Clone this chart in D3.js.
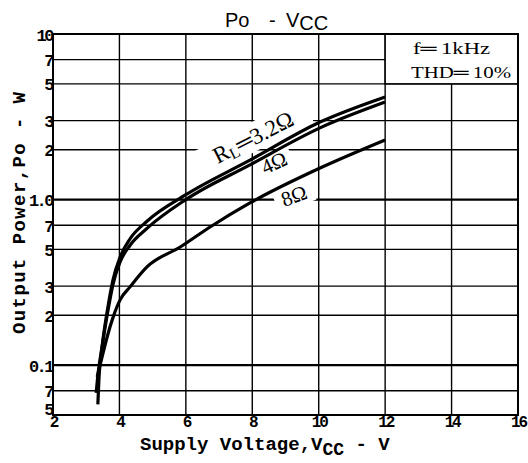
<!DOCTYPE html>
<html><head><meta charset="utf-8">
<script src="https://cdn.jsdelivr.net/npm/d3@7"></script>
<style>
html,body{margin:0;padding:0;background:#fff;}
svg{display:block;}
</style></head>
<body>
<svg id="chart" width="528" height="463"></svg>
<script>
// ---- data ----
const xTicks = [2, 4, 6, 8, 10, 12, 14, 16];
const xTickLabels = ["2", "4", "6", "8", "10", "12", "14", "16"];
const yTicks = [10, 7, 5, 3, 2, 1, 0.7, 0.5, 0.3, 0.2, 0.1, 0.07, 0.05];
const yTickLabels = ["10", "7", "5", "3", "2", "1.0", "7", "5", "3", "2", "0.1", "7", "5"];
const decadeTicks = [1, 0.1];

const vcc32 = [3.35, 3.38, 3.48, 3.63, 3.81, 4.02, 4.32, 4.83, 6.0, 7.93, 10.04, 12];
const po32  = [0.058, 0.08, 0.13, 0.21, 0.33, 0.45, 0.58, 0.74, 1.07, 1.73, 2.94, 4.17];
const vcc4  = [3.30, 3.36, 3.48, 3.63, 3.81, 4.02, 4.32, 4.83, 6.0, 7.93, 10.04, 12];
const po4   = [0.068, 0.09, 0.13, 0.20, 0.31, 0.42, 0.53, 0.67, 1.0, 1.62, 2.71, 3.88];
const vcc8  = [3.33, 3.51, 3.63, 3.81, 4.02, 4.32, 4.83, 5.83, 6.73, 7.93, 10.04, 12];
const po8   = [0.085, 0.119, 0.148, 0.195, 0.248, 0.297, 0.392, 0.517, 0.683, 0.954, 1.55, 2.29];

const seriesNames = ["3.2", "4", "8"];
const legendLines = ["f\u2550\u20091kHz", "THD\u2550\u200910%"];

// ---- layout ----
const L = 53, R = 518, T = 34, B = 415;
const svg = d3.select("#chart");
const x = d3.scaleLinear().domain([2, 16]).range([L, R]);
const y = d3.scaleLog().domain([0.05, 10]).range([B, T]);

const monoFont = "'Liberation Mono','DejaVu Sans Mono',monospace";
const serifFont = "'Liberation Serif','DejaVu Serif',serif";

// grid
const grid = svg.append("g");
grid.selectAll("line.v").data(xTicks.slice(1, -1)).enter().append("line")
  .attr("x1", d => x(d)).attr("x2", d => x(d)).attr("y1", T).attr("y2", B)
  .attr("stroke", "#000").attr("stroke-width", 1.4);
grid.selectAll("line.h").data(yTicks.slice(1, -1)).enter().append("line")
  .attr("x1", L).attr("x2", R).attr("y1", d => y(d)).attr("y2", d => y(d))
  .attr("stroke", "#000").attr("stroke-width", d => decadeTicks.includes(d) ? 2.2 : 1.4);

// legend box (covers grid)
svg.append("rect").attr("x", x(12)).attr("y", T).attr("width", R - x(12)).attr("height", y(5) - T)
  .attr("fill", "#fff").attr("stroke", "#000").attr("stroke-width", 1.5);
svg.append("text").attr("x", 413).attr("y", 54).attr("font-family", serifFont).attr("font-size", 17)
  .attr("textLength", 77).attr("lengthAdjust", "spacingAndGlyphs").text(legendLines[0]);
svg.append("text").attr("x", 411).attr("y", 78).attr("font-family", serifFont).attr("font-size", 17)
  .attr("textLength", 100).attr("lengthAdjust", "spacingAndGlyphs").text(legendLines[1]);

// label backgrounds
const labelSpecs = [
  {cx: 253, cy: 137, ang: -27, w: 122, h: 28},
  {cx: 274, cy: 163, ang: -25, w: 38, h: 22},
  {cx: 294, cy: 196, ang: -20, w: 40, h: 22}
];
labelSpecs.forEach(s => {
  svg.append("rect").attr("x", -s.w / 2).attr("y", -s.h / 2).attr("width", s.w).attr("height", s.h)
    .attr("fill", "#fff").attr("transform", `translate(${s.cx},${s.cy}) rotate(${s.ang})`);
});

// frame
svg.append("rect").attr("x", L).attr("y", T).attr("width", R - L).attr("height", B - T)
  .attr("fill", "none").attr("stroke", "#000").attr("stroke-width", 2);

// curves
const line = d3.line().x(d => x(d[0])).y(d => y(d[1])).curve(d3.curveMonotoneX);
[[vcc32, po32], [vcc4, po4], [vcc8, po8]].forEach(([vs, ps]) => {
  svg.append("path").datum(vs.map((v, i) => [v, ps[i]])).attr("d", line)
    .attr("fill", "none").attr("stroke", "#000").attr("stroke-width", 3.2)
    .attr("stroke-linejoin", "round");
});

// curve labels
const lab1 = svg.append("text").attr("font-family", serifFont).attr("font-size", 23)
  .attr("text-anchor", "middle").attr("dominant-baseline", "central")
  .attr("transform", `translate(${labelSpecs[0].cx},${labelSpecs[0].cy}) rotate(${labelSpecs[0].ang})`);
lab1.append("tspan").text("R");
lab1.append("tspan").attr("font-size", 16).attr("dy", 5).text("L");
lab1.append("tspan").attr("dy", -5).text("\u2550" + seriesNames[0] + "\u03A9");
svg.append("text").attr("font-family", serifFont).attr("font-size", 21)
  .attr("text-anchor", "middle").attr("dominant-baseline", "central")
  .attr("transform", `translate(${labelSpecs[1].cx},${labelSpecs[1].cy}) rotate(${labelSpecs[1].ang})`)
  .text(seriesNames[1] + "\u03A9");
svg.append("text").attr("font-family", serifFont).attr("font-size", 21)
  .attr("text-anchor", "middle").attr("dominant-baseline", "central")
  .attr("transform", `translate(${labelSpecs[2].cx},${labelSpecs[2].cy}) rotate(${labelSpecs[2].ang})`)
  .text(seriesNames[2] + "\u03A9");

// axes tick labels
const xAxis = d3.axisBottom(x).tickValues(xTicks).tickFormat((d, i) => xTickLabels[i]).tickSize(0).tickPadding(2);
const gx = svg.append("g").attr("transform", `translate(0,${B})`).call(xAxis);
gx.select(".domain").remove();
gx.selectAll("text").attr("font-family", monoFont).attr("font-weight", "bold").attr("font-size", 16)
  .attr("fill", "#000").attr("letter-spacing", "-2.2").attr("dy", "0.62em");

const yAxis = d3.axisLeft(y).tickValues(yTicks).tickFormat((d, i) => yTickLabels[i]).tickSize(0).tickPadding(1);
const gy = svg.append("g").attr("transform", `translate(${L},0)`).call(yAxis);
gy.select(".domain").remove();
gy.selectAll("text").attr("font-family", monoFont).attr("font-weight", "bold").attr("font-size", 17)
  .attr("fill", "#000").attr("dy", (d, i) => i === yTicks.length - 1 ? "-0.05em" : "0.36em")
  .attr("letter-spacing", "-2.5");

// axis titles
const xt = svg.append("text").attr("x", 140).attr("y", 450).attr("font-family", monoFont)
  .attr("font-weight", "bold").attr("font-size", 19).attr("fill", "#000");
xt.append("tspan").text("Supply Voltage,V");
xt.append("tspan").attr("dy", 5).attr("font-size", 18).text("CC");
xt.append("tspan").attr("dy", -5).text(" - V");

svg.append("text").attr("transform", "translate(25,334) rotate(-90)").attr("font-family", monoFont)
  .attr("font-weight", "bold").attr("font-size", 19).attr("fill", "#000")
  .attr("textLength", 242).attr("lengthAdjust", "spacing").text("Output Power,Po - W");

// title
const tt = svg.append("text").attr("x", 225).attr("y", 27).attr("font-family", "'Liberation Sans',Arial,sans-serif")
  .attr("font-size", 20).attr("fill", "#000");
tt.append("tspan").text("Po");
tt.append("tspan").attr("x", 269).text("-");
tt.append("tspan").attr("x", 286).text("V");
tt.append("tspan").attr("dy", 3).text("CC");
</script>
</body></html>
